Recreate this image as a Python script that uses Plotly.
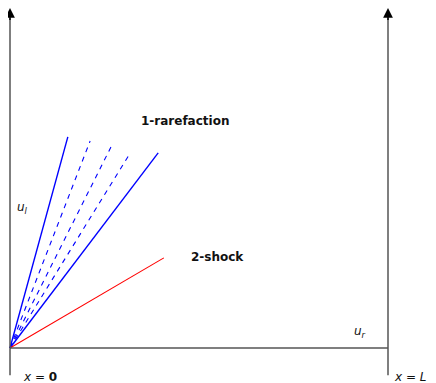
import plotly.graph_objects as go

# Characteristic lines from origin (x, t) end points
solid_blue_x = [0.153, 0.392]
solid_blue_t = [0.621, 0.574]
dashed_x = [0.212, 0.267, 0.315]
dashed_t = [0.609, 0.591, 0.568]
shock_x = [0.407]
shock_t = [0.265]

L = 1.0
T_TOP = 1.0
T_BOT = -0.08

fig = go.Figure()

for xe, te in zip(solid_blue_x, solid_blue_t):
    fig.add_trace(go.Scatter(x=[0, xe], y=[0, te], mode="lines",
                             line=dict(color="#0000ff", width=1.4), showlegend=False, hoverinfo="skip"))
for xe, te in zip(dashed_x, dashed_t):
    fig.add_trace(go.Scatter(x=[0, xe], y=[0, te], mode="lines",
                             line=dict(color="#0000ff", width=1.1, dash="5px,5px"), showlegend=False, hoverinfo="skip"))
for xe, te in zip(shock_x, shock_t):
    fig.add_trace(go.Scatter(x=[0, xe], y=[0, te], mode="lines",
                             line=dict(color="#ff0000", width=1.1), showlegend=False, hoverinfo="skip"))

axis_color = "#555555"
# horizontal axis
fig.add_shape(type="line", x0=0, y0=0, x1=L, y1=0, line=dict(color=axis_color, width=1.5))
# vertical axes with arrows
for xv in [0, L]:
    fig.add_shape(type="line", x0=xv, y0=T_BOT, x1=xv, y1=T_TOP - 0.03, line=dict(color=axis_color, width=1.5))
    fig.add_annotation(x=xv, y=T_TOP, ax=xv, ay=T_TOP - 0.04, xref="x", yref="y", axref="x", ayref="y",
                       showarrow=True, arrowhead=2, arrowsize=1.3, arrowwidth=1.5, arrowcolor="#000000",
                       text="")

font = dict(family="DejaVu Sans", size=12, color="#111111")
fig.add_annotation(x=0.463, y=0.667, text="<b>1-rarefaction</b>", showarrow=False, font=font)
fig.add_annotation(x=0.549, y=0.268, text="<b>2-shock</b>", showarrow=False, font=font)
fig.add_annotation(x=0.032, y=0.412, text="<i>u</i><sub><i>l</i></sub>", showarrow=False, font=font)
fig.add_annotation(x=0.925, y=0.047, text="<i>u</i><sub><i>r</i></sub>", showarrow=False, font=font)
fig.add_annotation(x=0.079, y=-0.084, text="<i>x</i> = <b>0</b>", showarrow=False, font=font)
fig.add_annotation(x=1.064, y=-0.084, text="<i>x</i> = <i>L</i> ", showarrow=False, font=font)

# page body has an 8px margin: figure covers page pixels 8..436 x 8..383
fig.update_xaxes(range=[-2/378, 426/378], visible=False)
fig.update_yaxes(range=[-35/340, 1.0], visible=False)
fig.update_layout(width=428, height=375, margin=dict(l=0, r=0, t=0, b=0),
                  plot_bgcolor="white", paper_bgcolor="white")

fig.write_html("out.html")
